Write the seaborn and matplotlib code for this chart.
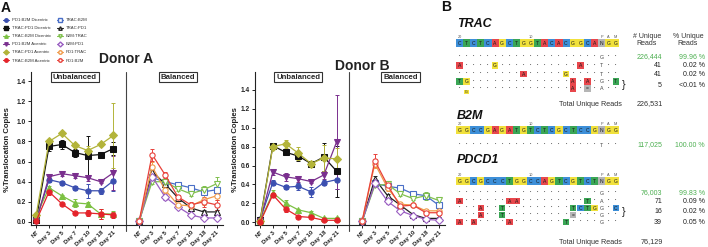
import matplotlib
matplotlib.use("Agg")
import matplotlib.pyplot as plt
import seaborn as sns
import pandas as pd
from matplotlib.lines import Line2D
from matplotlib.patches import Rectangle

# ---------------- DATA (panel A) ----------------
days = ["NT", "Day 3", "Day 5", "Day 7", "Day 10", "Day 18", "Day 21"]

unb_series = ["PD1:B2M Dicentric", "TRAC:PD1 Dicentric", "TRAC:B2M Dicentric",
              "PD1:B2M Acentric", "TRAC:PD1 Acentric", "TRAC:B2M Acentric"]
bal_series = ["TRAC:B2M", "TRAC:PD1", "B2M:TRAC", "B2M:PD1", "PD1:TRAC", "PD1:B2M"]

# Donor A, unbalanced (mean, error)
A_unb = {
    "PD1:B2M Dicentric":  [0.02, 0.42, 0.39, 0.34, 0.31, 0.31, 0.41],
    "TRAC:PD1 Dicentric": [0.02, 0.75, 0.77, 0.69, 0.66, 0.67, 0.73],
    "TRAC:B2M Dicentric": [0.06, 0.34, 0.26, 0.19, 0.18, 0.08, 0.08],
    "PD1:B2M Acentric":   [0.01, 0.45, 0.48, 0.46, 0.44, 0.40, 0.49],
    "TRAC:PD1 Acentric":  [0.07, 0.80, 0.88, 0.76, 0.71, 0.77, 0.86],
    "TRAC:B2M Acentric":  [0.01, 0.30, 0.18, 0.09, 0.09, 0.08, 0.07],
}
A_unb_err = {
    "PD1:B2M Dicentric":  [0.01, 0.02, 0.02, 0.02, 0.07, 0.03, 0.10],
    "TRAC:PD1 Dicentric": [0.01, 0.04, 0.04, 0.04, 0.19, 0.01, 0.06],
    "TRAC:B2M Dicentric": [0.01, 0.02, 0.01, 0.04, 0.02, 0.05, 0.03],
    "PD1:B2M Acentric":   [0.01, 0.02, 0.02, 0.02, 0.03, 0.01, 0.17],
    "TRAC:PD1 Acentric":  [0.01, 0.02, 0.01, 0.02, 0.04, 0.02, 0.32],
    "TRAC:B2M Acentric":  [0.01, 0.03, 0.01, 0.01, 0.03, 0.05, 0.03],
}
# Donor A, balanced
A_bal = {
    "TRAC:B2M": [0.01, 0.44, 0.40, 0.37, 0.34, 0.30, 0.32],
    "TRAC:PD1": [0.01, 0.50, 0.38, 0.24, 0.14, 0.10, 0.10],
    "B2M:TRAC": [0.01, 0.40, 0.40, 0.33, 0.28, 0.32, 0.38],
    "B2M:PD1":  [0.01, 0.45, 0.25, 0.15, 0.07, 0.04, 0.04],
    "PD1:TRAC": [0.01, 0.55, 0.32, 0.17, 0.16, 0.22, 0.26],
    "PD1:B2M":  [0.01, 0.67, 0.47, 0.25, 0.17, 0.20, 0.17],
}
A_bal_err = {
    "TRAC:B2M": [0.01, 0.03, 0.02, 0.02, 0.01, 0.03, 0.03],
    "TRAC:PD1": [0.01, 0.02, 0.02, 0.03, 0.02, 0.02, 0.02],
    "B2M:TRAC": [0.01, 0.02, 0.02, 0.02, 0.02, 0.04, 0.07],
    "B2M:PD1":  [0.01, 0.02, 0.03, 0.01, 0.02, 0.01, 0.02],
    "PD1:TRAC": [0.01, 0.05, 0.03, 0.02, 0.02, 0.05, 0.04],
    "PD1:B2M":  [0.01, 0.06, 0.03, 0.02, 0.03, 0.05, 0.05],
}
# Donor B, unbalanced
B_unb = {
    "PD1:B2M Dicentric":  [0.03, 0.42, 0.37, 0.38, 0.32, 0.42, 0.45],
    "TRAC:PD1 Dicentric": [0.02, 0.81, 0.74, 0.70, 0.62, 0.69, 0.54],
    "TRAC:B2M Dicentric": [0.01, 0.31, 0.20, 0.13, 0.10, 0.04, 0.04],
    "PD1:B2M Acentric":   [0.01, 0.53, 0.48, 0.46, 0.43, 0.50, 0.85],
    "TRAC:PD1 Acentric":  [0.01, 0.80, 0.83, 0.73, 0.62, 0.68, 0.67],
    "TRAC:B2M Acentric":  [0.00, 0.29, 0.14, 0.06, 0.05, 0.02, 0.02],
}
B_unb_err = {
    "PD1:B2M Dicentric":  [0.01, 0.03, 0.02, 0.04, 0.05, 0.03, 0.10],
    "TRAC:PD1 Dicentric": [0.01, 0.02, 0.02, 0.05, 0.02, 0.15, 0.27],
    "TRAC:B2M Dicentric": [0.01, 0.03, 0.03, 0.01, 0.02, 0.01, 0.02],
    "PD1:B2M Acentric":   [0.01, 0.03, 0.04, 0.03, 0.02, 0.04, 0.50],
    "TRAC:PD1 Acentric":  [0.01, 0.02, 0.04, 0.07, 0.02, 0.14, 0.12],
    "TRAC:B2M Acentric":  [0.01, 0.02, 0.03, 0.01, 0.01, 0.01, 0.01],
}
# Donor B, balanced
B_bal = {
    "TRAC:B2M": [0.01, 0.41, 0.38, 0.36, 0.30, 0.28, 0.18],
    "TRAC:PD1": [0.01, 0.46, 0.28, 0.18, 0.08, 0.04, 0.04],
    "B2M:TRAC": [0.01, 0.39, 0.40, 0.30, 0.25, 0.28, 0.23],
    "B2M:PD1":  [0.01, 0.41, 0.22, 0.12, 0.07, 0.03, 0.02],
    "PD1:TRAC": [0.01, 0.62, 0.36, 0.19, 0.18, 0.12, 0.12],
    "PD1:B2M":  [0.01, 0.65, 0.39, 0.17, 0.18, 0.10, 0.10],
}
B_bal_err = {
    "TRAC:B2M": [0.01, 0.03, 0.03, 0.02, 0.03, 0.03, 0.02],
    "TRAC:PD1": [0.01, 0.03, 0.02, 0.02, 0.01, 0.01, 0.01],
    "B2M:TRAC": [0.01, 0.02, 0.02, 0.02, 0.02, 0.04, 0.03],
    "B2M:PD1":  [0.01, 0.02, 0.03, 0.02, 0.01, 0.01, 0.01],
    "PD1:TRAC": [0.01, 0.05, 0.03, 0.02, 0.02, 0.02, 0.02],
    "PD1:B2M":  [0.01, 0.07, 0.03, 0.02, 0.02, 0.02, 0.02],
}

# ---------------- DATA (panel B) ----------------
trac_ref = "CTCTCAGCTGGTACACGGCANGG"
trac_rows = ["....................G..",
             "A....G...........A..T..",
             ".........A.....G....T..",
             "TG..............A.A.G.T",
             ".g..............A.-.A.."]
trac_counts = ["226,444", "41", "41", "5"]
trac_pct = ["99.96 %", "0.02 %", "0.02 %", "<0.01 %"]
trac_total = "226,531"

b2m_ref = "GGCCGAGATGTCTCGCTCCGNGG"
b2m_rows = ["....................T.."]
b2m_counts = ["117,025"]
b2m_pct = ["100.00 %"]

pd1_ref = "GGCGCCCTGGCCAGTCGTCTNGG"
pd1_rows = ["....................G..",
            "A......AA.........T.A..",
            "...A..T.........TCTGG.C",
            "...A..T.........-...G..",
            "A.A....A.......T....G.."]
pd1_counts = ["76,003", "71", "16", "39"]
pd1_pct = ["99.83 %", "0.09 %", "0.02 %", "0.05 %"]
pd1_total = "76,129"

# ---------------- STYLE ----------------
sns.set_theme(style="ticks")
plt.rcParams["font.family"] = ["Liberation Sans", "DejaVu Sans"]

unb_style = {
    "PD1:B2M Dicentric":  ("#3b4fb0", "o"),
    "TRAC:PD1 Dicentric": ("#111111", "s"),
    "TRAC:B2M Dicentric": ("#7cc142", "^"),
    "PD1:B2M Acentric":   ("#7a2f8e", "v"),
    "TRAC:PD1 Acentric":  ("#b3b43a", "D"),
    "TRAC:B2M Acentric":  ("#e4232a", "o"),
}
bal_style = {
    "TRAC:B2M": ("#4a6fc7", "s"),
    "TRAC:PD1": ("#222222", "^"),
    "B2M:TRAC": ("#80c04e", "v"),
    "B2M:PD1":  ("#9a5ec2", "D"),
    "PD1:TRAC": ("#f09a48", "o"),
    "PD1:B2M":  ("#e8413a", "o"),
}

W, H = 708, 247
fig = plt.figure(figsize=(W / 100, H / 100), dpi=100)

def fx(px):
    return px / W

def fy(py):
    return 1 - py / H


def draw_donor(ax, unb, unb_err, bal, bal_err, ymax):
    for s in unb_series:
        c, m = unb_style[s]
        df = pd.DataFrame({"x": list(range(len(days))), "y": unb[s]})
        ax.errorbar(df["x"], df["y"], yerr=unb_err[s], fmt="none", ecolor=c,
                    elinewidth=0.7, capsize=1.6, capthick=0.7, zorder=2)
        sns.lineplot(data=df, x="x", y="y", ax=ax, color=c, marker=m,
                     markersize=3.8, markeredgecolor=c, linewidth=0.9,
                     estimator=None, legend=False, zorder=3)
    for s in bal_series:
        c, m = bal_style[s]
        df = pd.DataFrame({"x": [i + 8 for i in range(len(days))], "y": bal[s]})
        ax.errorbar(df["x"], df["y"], yerr=bal_err[s], fmt="none", ecolor=c,
                    elinewidth=0.7, capsize=1.6, capthick=0.7, zorder=2)
        sns.lineplot(data=df, x="x", y="y", ax=ax, color=c, marker=m,
                     markersize=3.8, markeredgecolor=c, markerfacecolor="white",
                     markeredgewidth=0.8, linewidth=0.9,
                     estimator=None, legend=False, zorder=3)
    ax.axvline(7, color="#444444", lw=0.8, ymin=-0.04, clip_on=False)
    ax.set_xlim(-0.4, 14.5)
    ax.set_ylim(-0.03, ymax)
    ax.set_yticks([0, 0.2, 0.4, 0.6, 0.8, 1.0, 1.2, 1.4])
    ax.set_yticklabels(["0.0", "0.2", "0.4", "0.6", "0.8", "1.0", "1.2", "1.4"],
                       fontsize=4.8, fontweight="bold")
    ax.set_xticks(list(range(7)) + list(range(8, 15)))
    ax.set_xticklabels(days + days, rotation=45, ha="right",
                       rotation_mode="anchor", fontsize=4.3, fontweight="bold")
    ax.tick_params(axis="both", length=2, width=0.7, pad=1.5, colors="#222222")
    ax.set_xlabel("")
    ax.set_ylabel("")
    for sp in ["top", "right"]:
        ax.spines[sp].set_visible(False)
    for sp in ["left", "bottom"]:
        ax.spines[sp].set_linewidth(0.8)
        ax.spines[sp].set_color("#222222")
    bb = dict(boxstyle="square,pad=0.25", fc="white", ec="#333333", lw=0.8)
    ax.text(3, 0.967, "Unbalanced", transform=ax.get_xaxis_transform(),
            ha="center", va="center", fontsize=5.6, fontweight="bold", bbox=bb)
    ax.text(11, 0.967, "Balanced", transform=ax.get_xaxis_transform(),
            ha="center", va="center", fontsize=5.6, fontweight="bold", bbox=bb)


axA = fig.add_axes([fx(31), fy(225), fx(192), 153 / H])
draw_donor(axA, A_unb, A_unb_err, A_bal, A_bal_err, 1.49)
axB = fig.add_axes([fx(255), fy(225), fx(190), 153 / H])
draw_donor(axB, B_unb, B_unb_err, B_bal, B_bal_err, 1.59)

fig.text(fx(8), fy(150), "%Translocation Copies", rotation=90, ha="center",
         va="center", fontsize=5.6, fontweight="bold", color="#222222")
fig.text(fx(235), fy(150), "%Translocation Copies", rotation=90, ha="center",
         va="center", fontsize=5.6, fontweight="bold", color="#222222")
fig.text(fx(126), fy(59), "Donor A", ha="center", va="center", fontsize=10,
         fontweight="bold", color="#222222")
fig.text(fx(362), fy(66), "Donor B", ha="center", va="center", fontsize=10,
         fontweight="bold", color="#222222")
fig.text(fx(1), fy(8), "A", ha="left", va="center", fontsize=10,
         fontweight="bold", color="#111111")

# legend
handles = []
labels = []
for s in unb_series:
    c, m = unb_style[s]
    handles.append(Line2D([], [], color=c, marker=m, markersize=2.5, lw=0.8,
                          markeredgecolor=c))
    labels.append(s)
for s in bal_series:
    c, m = bal_style[s]
    handles.append(Line2D([], [], color=c, marker=m, markersize=2.5, lw=0.8,
                          markeredgecolor=c, markerfacecolor="white"))
    labels.append(s)
fig.legend(handles, labels, ncol=2, loc="upper left",
           bbox_to_anchor=(fx(3), fy(18)), frameon=False, fontsize=3.1,
           handlelength=1.5, handletextpad=0.5, labelspacing=0.95,
           columnspacing=1.4, borderpad=0, borderaxespad=0,
           labelcolor="#333333")

# ---------------- PANEL B ----------------
axT = fig.add_axes([0, 0, 1, 1])
axT.set_xlim(0, W)
axT.set_ylim(H, 0)
axT.axis("off")

base_col = {"A": "#e8474c", "C": "#3d8fd8", "G": "#f1e13c", "T": "#3aa655",
            "N": "#b5b5b5", "-": "#b5b5b5"}
x0 = 456.0
bw = 7.1
green = "#4caf50"


def draw_ref(seq, yc):
    for i, ch in enumerate(seq):
        xl = x0 + i * bw
        axT.add_patch(Rectangle((xl, yc - 3.6), bw, 7.2, fc=base_col[ch],
                                ec="none"))
        axT.text(xl + bw / 2, yc + 0.3, ch, ha="center", va="center",
                 fontsize=3.6, color="#1a1a1a")
    axT.text(x0 + 0.5 * bw, yc - 5.8, "20", ha="center", va="center",
             fontsize=2.8, color="#555555")
    axT.text(x0 + 10.5 * bw, yc - 5.8, "10", ha="center", va="center",
             fontsize=2.8, color="#555555")
    for k, ch in enumerate("PAM"):
        axT.text(x0 + (20.5 + k) * bw, yc - 5.8, ch, ha="center", va="center",
                 fontsize=2.8, color="#555555")


def draw_row(row, yc):
    for i, ch in enumerate(row):
        xc = x0 + (i + 0.5) * bw
        if ch == ".":
            axT.text(xc, yc, "•", ha="center", va="center", fontsize=2.6,
                     color="#333333")
        elif ch == "g":
            axT.add_patch(Rectangle((xc - 2.5, yc + 1), 5, 4.5,
                                    fc=base_col["G"], ec="none"))
            axT.text(xc, yc + 3.3, "G", ha="center", va="center", fontsize=2.6,
                     color="#222222")
        elif i == 20:
            axT.text(xc, yc, ch, ha="center", va="center", fontsize=3.8,
                     color="#444444")
        else:
            axT.add_patch(Rectangle((xc - bw / 2 + 0.3, yc - 3.2), bw - 0.6, 6.4,
                                    fc=base_col[ch.upper()], ec="none"))
            axT.text(xc, yc + 0.3, "=" if ch == "-" else ch, ha="center",
                     va="center", fontsize=3.6, color="#1a1a1a")


def draw_stats(count, pct, yc, col):
    axT.text(662, yc, count, ha="right", va="center", fontsize=5, color=col)
    axT.text(705, yc, pct, ha="right", va="center", fontsize=5, color=col)


axT.text(441, 7, "B", ha="left", va="center", fontsize=10, fontweight="bold",
         color="#111111")

# TRAC
axT.text(457, 24, "TRAC", ha="left", va="center", fontsize=9,
         fontweight="bold", style="italic", color="#111111")
draw_ref(trac_ref, 43)
trac_y = [57, 65.5, 74, 81.5, 88.5]
for r, y in zip(trac_rows, trac_y):
    draw_row(r, y)
axT.text(647, 40, "# Unique\nReads", ha="center", va="center", fontsize=5,
         color="#333333", linespacing=0.9)
axT.text(688, 40, "% Unique\nReads", ha="center", va="center", fontsize=5,
         color="#333333", linespacing=0.9)
stat_y = [57, 65.5, 74, 85]
for i, (c, p, y) in enumerate(zip(trac_counts, trac_pct, stat_y)):
    draw_stats(c, p, y, green if i == 0 else "#222222")
axT.text(624, 85, "}", ha="center", va="center", fontsize=8, color="#222222")
axT.text(622, 104, "Total Unique Reads", ha="right", va="center", fontsize=5.2,
         color="#333333")
axT.text(663, 104, trac_total, ha="right", va="center", fontsize=5.2,
         color="#333333")

# B2M
axT.text(457, 116, "B2M", ha="left", va="center", fontsize=9,
         fontweight="bold", style="italic", color="#111111")
draw_ref(b2m_ref, 130)
draw_row(b2m_rows[0], 145)
draw_stats(b2m_counts[0], b2m_pct[0], 145, green)

# PDCD1
axT.text(457, 160, "PDCD1", ha="left", va="center", fontsize=9,
         fontweight="bold", style="italic", color="#111111")
draw_ref(pd1_ref, 181)
pd1_y = [193, 201, 208, 215, 222]
for r, y in zip(pd1_rows, pd1_y):
    draw_row(r, y)
pd1_stat_y = [193, 201, 211.5, 222]
for i, (c, p, y) in enumerate(zip(pd1_counts, pd1_pct, pd1_stat_y)):
    draw_stats(c, p, y, green if i == 0 else "#222222")
axT.text(624, 211.5, "}", ha="center", va="center", fontsize=8, color="#222222")
axT.text(622, 242, "Total Unique Reads", ha="right", va="center", fontsize=5.2,
         color="#333333")
axT.text(663, 242, pd1_total, ha="right", va="center", fontsize=5.2,
         color="#333333")

fig.savefig("out.png", dpi=100)
